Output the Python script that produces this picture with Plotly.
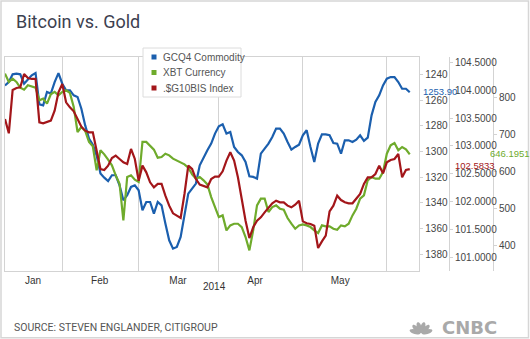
import math
import pandas as pd
import plotly.graph_objects as go

# ---------------------------------------------------------------- data
# Trading days (weekdays) 13 Jan 2014 .. 10 Jun 2014
dates = pd.bdate_range("2014-01-13", "2014-06-10")

# GCQ4 Commodity (gold future, USD/oz) - plotted on an inverted scale
gold = [
    1248.6, 1246.0, 1240.0, 1239.5, 1240.0, 1247.3, 1244.1, 1240.8, 1239.0, 1263.3,
    1264.1, 1253.7, 1255.0, 1246.0, 1239.0, 1247.3, 1252.4, 1252.4, 1256.3, 1257.6,
    1266.7, 1279.7, 1290.0, 1294.7, 1303.0, 1317.2, 1320.4, 1323.0, 1318.5, 1318.5,
    1326.3, 1338.0, 1334.1, 1327.6, 1326.3, 1330.2, 1345.8, 1339.3, 1339.3, 1348.3,
    1339.3, 1341.9, 1356.1, 1369.1, 1375.6, 1374.3, 1366.5, 1348.3, 1332.8, 1328.9,
    1325.0, 1310.8, 1304.3, 1299.1, 1293.9, 1286.1, 1280.4, 1278.9, 1286.1, 1284.8,
    1296.5, 1300.4, 1303.0, 1308.2, 1319.3, 1319.8, 1321.1, 1301.7, 1297.8, 1293.9,
    1288.7, 1282.2, 1282.2, 1286.1, 1292.6, 1298.6, 1296.5, 1294.7, 1287.4, 1283.5,
    1296.5, 1308.2, 1293.9, 1286.7, 1286.7, 1287.4, 1293.4, 1293.9, 1301.7, 1291.3,
    1291.3, 1292.6, 1290.8, 1287.4, 1291.8, 1289.2, 1271.9, 1261.5, 1256.3, 1248.6,
    1243.4, 1242.1, 1242.1, 1246.0, 1251.2, 1251.2, 1253.90,
]

# XBT Currency (bitcoin, USD)
xbt = [
    865.0, 842.5, 851.5, 842.5, 827.1, 821.7, 833.4, 830.7, 827.1, 792.8,
    797.3, 783.7, 809.0, 815.4, 806.3, 815.4, 819.9, 812.6, 774.7, 707.0,
    720.5, 709.7, 679.9, 668.1, 603.1, 657.3, 646.4, 632.0, 616.6, 589.5,
    566.9, 467.6, 585.0, 589.5, 577.8, 571.5, 679.9, 679.9, 670.8, 659.1,
    637.4, 639.2, 648.2, 643.7, 634.7, 630.2, 625.7, 619.3, 610.3, 592.2,
    580.5, 585.0, 576.0, 565.1, 530.8, 503.7, 476.6, 481.1, 440.5, 454.0,
    458.5, 458.5, 449.5, 422.4, 386.3, 440.5, 508.2, 526.3, 526.3, 490.2,
    503.7, 508.2, 499.2, 496.5, 473.9, 458.5, 445.0, 454.0, 456.7, 454.0,
    449.5, 440.5, 433.2, 454.0, 451.3, 451.3, 445.0, 442.3, 454.0, 451.3,
    458.5, 481.1, 499.2, 526.3, 535.3, 576.0, 585.0, 580.5, 580.5, 598.6,
    648.2, 670.8, 677.1, 657.3, 666.3, 660.0, 646.1951,
]

# .$G10BIS Index (G10 currency basket)
g10 = [
    103.483, 103.225, 104.003, 104.039, 104.051, 104.291, 104.219, 104.201, 104.201, 103.423,
    103.405, 103.423, 103.453, 103.632, 103.961, 104.111, 103.782, 103.692, 103.620, 103.483,
    103.345, 103.273, 103.243, 103.243, 102.914, 102.585, 102.567, 102.645, 102.782, 102.824,
    102.765, 102.705, 102.675, 102.944, 102.765, 102.375, 102.645, 102.525, 102.346, 102.256,
    102.316, 102.316, 102.106, 101.927, 101.789, 101.747, 101.705, 102.136, 102.645, 102.585,
    102.405, 102.304, 102.286, 102.256, 102.405, 102.447, 102.447, 102.543, 102.735, 102.884,
    102.735, 102.435, 102.046, 101.657, 101.346, 101.538, 101.657, 101.717, 101.807, 101.885,
    101.969, 102.016, 101.987, 101.987, 101.927, 101.897, 101.945, 102.016, 101.645, 101.610,
    101.598, 101.568, 101.167, 101.286, 101.388, 101.825, 101.927, 102.106, 102.028, 101.987,
    101.969, 101.969, 102.046, 102.136, 102.316, 102.435, 102.435, 102.495, 102.645, 102.507,
    102.705, 102.747, 102.765, 102.854, 102.435, 102.567, 102.5833,
]

series_names = ["GCQ4 Commodity", "XBT Currency", ".$G10BIS Index"]
last_labels = ["1253.90", "646.1951", "102.5833"]

month_names = ["Jan", "Feb", "Mar", "Apr", "May"]
month_label_at = ["2014-01-22 08:00", "2014-02-14 19:00", "2014-03-17 07:00",
                  "2014-04-14 12:00", "2014-05-14 19:00"]
# first trading day of each month (month boundaries fall on weekdays here)
month_starts = ["2014-02-03", "2014-03-03", "2014-04-01", "2014-05-01", "2014-06-02"]

gold_ticks = [1240, 1260, 1280, 1300, 1320, 1340, 1360, 1380]
g10_ticks = [101.0, 101.5, 102.0, 102.5, 103.0, 103.5, 104.0, 104.5]
xbt_ticks = [400, 500, 600, 700, 800]

# ---------------------------------------------------------------- style
W, H = 530, 339
ML, MR, MT, MB = 5, 2, 57, 68
PW, PH = W - ML - MR, H - MT - MB

BLUE = "#1b5fae"
GREEN = "#6fab2c"
RED = "#a3161a"
LINE = "#d3d3d3"
TICKTXT = "#454545"
AXFONT = dict(family="Arial", size=10, color=TICKTXT)


def px(x):
    """pixel x -> paper x"""
    return (x - ML) / PW


def py(y):
    """pixel y (from top) -> paper y"""
    return (H - MB - y) / PH


fig = go.Figure()
fig.add_trace(go.Scatter(x=dates, y=gold, yaxis="y", mode="lines", name=series_names[0],
                         line=dict(color=BLUE, width=2.2), showlegend=False))
fig.add_trace(go.Scatter(x=dates, y=xbt, yaxis="y2", mode="lines", name=series_names[1],
                         line=dict(color=GREEN, width=2.2), showlegend=False))
fig.add_trace(go.Scatter(x=dates, y=g10, yaxis="y3", mode="lines", name=series_names[2],
                         line=dict(color=RED, width=2.2), showlegend=False))

axis_common = dict(showline=True, linecolor=LINE, linewidth=1, ticks="outside", ticklen=3,
                   tickcolor=LINE, showgrid=False, zeroline=False, tickfont=AXFONT)

fig.update_layout(
    width=W, height=H,
    margin=dict(l=ML, r=MR, t=MT, b=MB, pad=0),
    paper_bgcolor="white", plot_bgcolor="white",
    showlegend=False,
    xaxis=dict(
        domain=[0, px(419.3)], type="date",
        range=["2014-01-13", "2014-06-12 12:00"],
        rangebreaks=[dict(bounds=["sat", "mon"])],
        tickvals=month_label_at, ticktext=month_names, ticks="",
        showgrid=False, zeroline=False,
        showline=True, mirror=True, linecolor=LINE, linewidth=1,
        tickfont=dict(family="Arial", size=10, color="#333"),
        minor=dict(tickvals=month_starts, showgrid=True, gridcolor=LINE, gridwidth=1, ticks=""),
    ),
    yaxis=dict(range=[1393, 1226.5], side="right", anchor="x", mirror=True,
               tickvals=gold_ticks, **axis_common),
    yaxis2=dict(range=[330.5, 910], side="right", anchor="free", overlaying="y",
                position=px(493), tickvals=xbt_ticks, **axis_common),
    yaxis3=dict(range=[100.754, 104.595], side="right", anchor="free", overlaying="y",
                position=px(449), tickvals=g10_ticks, tickformat=".4f", **axis_common),
)

shapes = []
ann = []

# outer frame
shapes.append(dict(type="rect", xref="paper", yref="paper", x0=px(1), x1=px(528.5),
                   y0=py(337.8), y1=py(1), line=dict(color="#d6d6d6", width=1.5),
                   fillcolor="rgba(0,0,0,0)", layer="below"))

# title
ann.append(dict(text="Bitcoin vs. Gold", xref="paper", yref="paper", x=px(14), y=py(21.5),
                xanchor="left", yanchor="middle", showarrow=False,
                font=dict(family="Roboto", size=18, color="#3c4150")))

# year under the month labels
ann.append(dict(text="2014", xref="paper", yref="paper", x=px(214), y=py(286.5),
                xanchor="center", yanchor="middle", showarrow=False,
                font=dict(family="Arial", size=10, color="#333")))

# last-value labels beside the axes
VALFONT = 9.5
ann.append(dict(text=last_labels[0], xref="paper", yref="y", x=px(421), y=gold[-1],
                xanchor="left", yanchor="middle", showarrow=False, yshift=1,
                font=dict(family="Arial", size=VALFONT, color=BLUE)))
ann.append(dict(text=last_labels[1], xref="paper", yref="y2", x=px(488), y=xbt[-1],
                xanchor="left", yanchor="middle", showarrow=False, yshift=1,
                font=dict(family="Arial", size=VALFONT, color=GREEN)))
ann.append(dict(text=last_labels[2], xref="paper", yref="y3", x=px(452.5), y=g10[-1],
                xanchor="left", yanchor="middle", showarrow=False, yshift=3.5,
                font=dict(family="Arial", size=VALFONT, color=RED)))

# legend box
shapes.append(dict(type="rect", xref="paper", yref="paper", x0=px(143), x1=px(241),
                   y0=py(97), y1=py(48), line=dict(color="#dcdcdc", width=1),
                   fillcolor="white", layer="above"))
for name, color, yc in zip(series_names, [BLUE, GREEN, RED], [57, 72.5, 88]):
    shapes.append(dict(type="rect", xref="paper", yref="paper", x0=px(151.5), x1=px(156.5),
                       y0=py(yc + 2.5), y1=py(yc - 2.5), line=dict(width=0),
                       fillcolor=color, layer="above"))
    ann.append(dict(text=name, xref="paper", yref="paper", x=px(160.5), y=py(yc),
                    xanchor="left", yanchor="middle", showarrow=False,
                    font=dict(family="Arial", size=10, color="#555")))

# footer
ann.append(dict(text="SOURCE: STEVEN ENGLANDER, CITIGROUP", xref="paper", yref="paper",
                x=px(12), y=py(327), xanchor="left", yanchor="middle", showarrow=False,
                font=dict(family="Roboto", size=10.5, color="#555")))

# peacock mark: six feathers fanning out from a common base
LOGO = "#a9a9a9"


def feather_path(cx, cy, ang, dist=6.2, a=5.6, b=2.3, n=24):
    th = math.radians(ang)
    ux, uy = math.sin(th), -math.cos(th)
    ex, ey = cx + ux * dist, cy + uy * dist
    pts = []
    for i in range(n):
        t = 2 * math.pi * i / n
        lx, ly = a * math.cos(t), b * math.sin(t)
        x = ex + lx * ux - ly * uy
        y = ey + lx * uy + ly * ux
        pts.append(f"{px(x):.5f},{py(y):.5f}")
    return "M " + " L ".join(pts) + " Z"


for ang in [-74, -45, -16, 16, 45, 74]:
    shapes.append(dict(type="path", xref="paper", yref="paper",
                       path=feather_path(421, 333.5, ang), fillcolor=LOGO,
                       line=dict(width=0), layer="above"))

ann.append(dict(text="<b>CNBC</b>", xref="paper", yref="paper", x=px(469), y=py(327),
                xanchor="center", yanchor="middle", showarrow=False,
                font=dict(family="DejaVu Sans", size=18, color=LOGO)))

fig.update_layout(shapes=shapes, annotations=ann)

fig.write_html("out.html")
